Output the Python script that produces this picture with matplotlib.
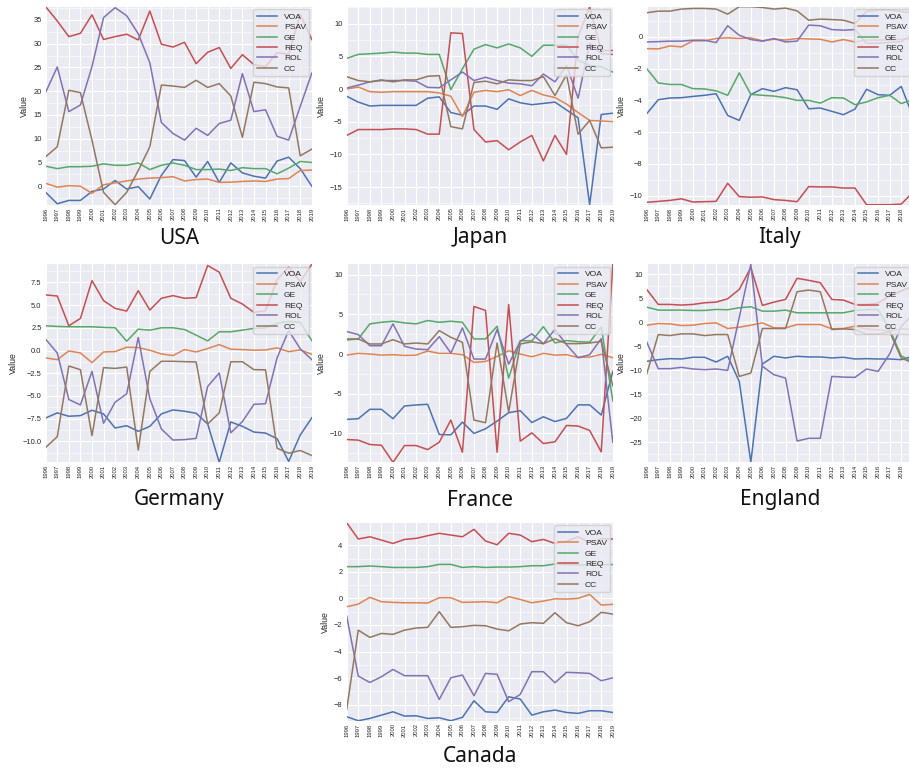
import matplotlib
matplotlib.use("Agg")
import matplotlib.pyplot as plt
from matplotlib.ticker import MultipleLocator

years = list(range(1996, 2020))
series_names = ["VOA", "PSAV", "GE", "REQ", "ROL", "CC"]
colors = ["#4C72B0", "#DD8452", "#55A868", "#C44E52", "#8172B3", "#937860"]

usa = {
    "VOA": [-1.3, -3.7, -3.0, -3.0, -1.1, -0.6, 1.2, -0.6, -0.1, -2.7, 2.3, 5.6, 5.4, 1.9, 5.2, 0.8, 4.9, 2.8, 2.1, 1.7, 5.3, 6.1, 3.7, 0.0],
    "PSAV": [0.6, -0.2, 0.1, 0.0, -1.5, 0.3, 0.7, 1.1, 1.5, 1.7, 1.8, 2.0, 1.1, 1.4, 1.5, 0.8, 0.85, 1.0, 1.1, 1.0, 1.5, 1.6, 3.3, 3.4],
    "GE": [4.2, 3.7, 4.1, 4.1, 4.2, 4.7, 4.4, 4.4, 4.9, 3.5, 4.4, 4.9, 4.4, 3.5, 3.5, 3.6, 3.3, 3.9, 3.7, 3.7, 2.6, 3.8, 5.2, 5.0],
    "REQ": [37.8, 34.8, 31.5, 32.2, 36.1, 30.9, 31.5, 32.0, 30.8, 36.9, 29.9, 29.3, 30.3, 25.8, 28.2, 29.2, 24.8, 27.7, 25.6, 25.2, 28.1, 27.8, 36.2, 30.9],
    "ROL": [19.8, 25.1, 15.7, 17.1, 25.2, 35.5, 37.6, 35.9, 32.1, 26.0, 13.4, 11.1, 9.7, 12.2, 10.7, 13.2, 13.9, 23.7, 15.7, 16.1, 10.5, 9.7, 16.8, 23.8],
    "CC": [6.2, 8.3, 20.2, 19.7, 9.7, -1.3, -3.9, -1.3, 3.3, 8.3, 21.3, 21.1, 20.8, 22.3, 20.8, 21.6, 19.0, 10.3, 21.9, 21.6, 20.9, 20.7, 6.4, 7.8],
}
japan = {
    "VOA": [-1.1, -2.0, -2.6, -2.5, -2.5, -2.5, -2.5, -1.4, -1.2, -3.6, -4.0, -2.6, -2.6, -3.1, -1.5, -2.1, -2.4, -2.2, -2.0, -3.2, -4.4, -17.7, -3.9, -3.7],
    "PSAV": [0.0, 0.3, -0.4, -0.5, -0.4, -0.4, -0.4, -0.4, -0.6, -1.1, -4.2, -0.5, -0.2, -0.4, -0.1, -1.0, -0.2, -0.9, -1.3, -2.3, -3.6, -4.8, -4.9, -5.0],
    "GE": [4.7, 5.3, 5.4, 5.5, 5.65, 5.5, 5.5, 5.3, 5.3, -0.1, 3.1, 6.1, 6.8, 6.3, 6.9, 6.3, 5.0, 6.7, 6.7, 6.7, 4.4, 3.6, 3.4, 2.6],
    "REQ": [-7.1, -6.2, -6.2, -6.2, -6.1, -6.1, -6.2, -6.9, -6.9, 8.6, 8.5, -6.2, -8.1, -7.9, -9.3, -8.1, -7.1, -11.0, -7.1, -10.0, 8.0, 12.6, 5.9, 5.9],
    "ROL": [0.15, 0.6, 1.1, 1.3, 1.3, 1.3, 1.2, 0.25, 0.2, 1.4, 2.6, 1.3, 1.8, 1.3, 0.9, 0.8, 0.5, 2.3, 1.1, 3.6, -1.4, 7.0, 5.4, 5.3],
    "CC": [1.9, 1.3, 1.1, 1.4, 1.1, 1.4, 1.4, 1.95, 2.05, -5.75, -6.1, 1.0, 1.2, 0.8, 1.4, 1.3, 1.3, 1.9, -1.0, 2.2, -6.9, -4.8, -9.0, -8.9],
}
italy = {
    "VOA": [-4.84, -3.96, -3.85, -3.83, -3.75, -3.68, -3.58, -4.95, -5.26, -3.64, -3.26, -3.43, -3.2, -3.33, -4.53, -4.48, -4.69, -4.9, -4.55, -3.3, -3.64, -3.68, -3.12, -5.0],
    "PSAV": [-0.74, -0.76, -0.57, -0.63, -0.25, -0.25, -0.1, -0.06, -0.1, -0.06, -0.25, -0.15, -0.2, -0.1, -0.13, -0.15, -0.32, -0.17, -0.32, -0.2, -0.2, -0.2, -0.15, -0.15],
    "GE": [-2.0, -2.9, -3.0, -3.0, -3.26, -3.28, -3.4, -3.68, -2.27, -3.62, -3.68, -3.73, -3.83, -4.0, -4.0, -4.17, -3.83, -3.85, -4.27, -4.1, -3.83, -3.68, -4.2, -3.95],
    "REQ": [-10.42, -10.36, -10.3, -10.2, -10.4, -10.38, -10.36, -9.22, -10.06, -10.1, -10.08, -10.25, -10.3, -10.38, -9.43, -9.45, -9.45, -9.52, -9.52, -10.57, -10.57, -10.57, -10.53, -9.8],
    "ROL": [-0.32, -0.3, -0.27, -0.27, -0.21, -0.21, -0.36, 0.7, 0.1, -0.17, -0.27, -0.1, -0.32, -0.27, 0.74, 0.7, 0.46, 0.42, 0.46, -0.4, -0.4, -0.35, -0.3, 0.2],
    "CC": [1.52, 1.62, 1.62, 1.75, 1.79, 1.79, 1.75, 1.43, 1.9, 1.9, 1.85, 1.75, 1.81, 1.64, 1.05, 1.12, 1.09, 1.05, 0.84, 1.6, 1.7, 1.7, 1.6, 1.5],
}
germany = {
    "VOA": [-7.42, -6.86, -7.23, -7.16, -6.57, -6.97, -8.52, -8.27, -8.89, -8.34, -6.97, -6.53, -6.68, -6.9, -8.08, -12.3, -7.86, -8.34, -8.97, -9.08, -9.7, -12.2, -9.3, -7.4],
    "PSAV": [-0.81, -1.0, -0.04, -0.26, -1.33, -0.15, -0.11, 0.37, 0.33, 0.04, -0.37, -0.55, 0.11, -0.15, 0.22, 0.66, 0.15, 0.11, 0.04, 0.07, 0.3, -0.12, 0.07, -0.4],
    "GE": [2.73, 2.66, 2.62, 2.62, 2.62, 2.55, 2.51, 1.03, 2.36, 2.25, 2.51, 2.51, 2.32, 1.7, 1.07, 2.07, 2.07, 2.25, 2.45, 2.5, 3.0, 3.2, 3.1, 1.1],
    "REQ": [6.13, 6.01, 2.73, 3.54, 7.71, 5.5, 4.65, 4.35, 6.6, 4.46, 5.76, 6.05, 5.76, 5.83, 9.37, 8.63, 5.76, 5.13, 4.2, 4.4, 7.8, 9.2, 7.6, 9.5],
    "ROL": [1.25, -0.26, -5.39, -5.98, -2.29, -8.0, -5.68, -4.76, 1.44, -5.31, -8.63, -9.85, -9.8, -9.67, -3.95, -2.47, -9.05, -7.82, -5.92, -5.85, -0.8, 2.2, 0.2, -1.0],
    "CC": [-10.66, -9.48, -1.7, -2.1, -9.37, -1.88, -1.96, -1.81, -10.96, -2.29, -1.18, -1.18, -1.22, -1.25, -8.08, -6.86, -1.23, -1.23, -2.1, -2.12, -10.75, -11.3, -11.0, -11.55],
}
france = {
    "VOA": [-8.23, -8.14, -6.96, -6.96, -8.14, -6.54, -6.41, -6.33, -10.13, -10.17, -8.57, -10.0, -9.41, -8.44, -7.38, -7.13, -8.62, -7.9, -8.5, -8.1, -6.4, -6.4, -7.68, -2.2],
    "PSAV": [-0.13, 0.08, 0.0, -0.13, -0.08, -0.17, -0.13, 0.38, 0.08, 0.08, -0.08, -1.05, -0.93, -0.3, 0.42, 0.0, -0.34, 0.08, -0.13, -0.08, -0.42, -0.38, -0.04, -0.46],
    "GE": [1.77, 1.9, 3.8, 4.0, 4.13, 3.92, 3.8, 4.22, 4.0, 4.13, 4.0, 1.9, 1.9, 3.5, -3.04, 1.69, 1.65, 3.45, 1.4, 1.7, 1.55, 1.5, 3.4, -5.9],
    "REQ": [-10.76, -10.84, -11.39, -11.48, -13.63, -11.52, -11.52, -12.03, -11.1, -8.31, -12.36, 5.99, 5.49, -12.36, 6.24, -10.97, -9.92, -11.27, -11.05, -8.99, -9.07, -9.62, -12.32, 11.3],
    "ROL": [2.83, 2.45, 1.05, 1.05, 3.8, 0.97, 0.63, 0.55, 2.19, 0.13, 3.29, -0.63, -0.63, 3.08, -1.27, 1.6, 2.55, 1.3, 3.1, 1.18, -0.46, -0.08, 1.94, -11.1],
    "CC": [1.9, 1.9, 1.27, 1.27, 1.81, 1.27, 1.39, 1.27, 2.95, 2.11, 1.48, -8.31, -8.65, 1.39, -7.3, 1.27, 1.54, 1.3, 1.92, 1.31, 1.31, 1.39, 1.6, -4.0],
}
england = {
    "VOA": [-8.16, -7.81, -7.6, -7.67, -7.32, -7.32, -8.3, -7.11, -12.34, -29.2, -8.72, -7.11, -7.46, -7.11, -7.25, -7.25, -7.46, -7.32, -7.67, -7.6, -7.67, -7.67, -7.81, -7.1],
    "PSAV": [-0.63, -0.28, -0.35, -0.7, -0.63, -0.28, -0.14, -1.32, -1.05, -0.63, -0.14, -1.19, -1.19, -0.49, -0.49, -0.49, -1.39, -1.32, -0.84, -1.4, -1.6, -1.8, -1.4, -1.5],
    "GE": [3.14, 2.51, 2.51, 2.51, 2.44, 2.44, 2.65, 2.58, 3.0, 3.21, 2.3, 2.3, 2.51, 1.95, 1.95, 1.95, 1.95, 1.95, 2.44, 2.6, 2.6, -1.5, -7.0, -8.3],
    "REQ": [6.83, 3.7, 3.7, 3.56, 3.7, 4.04, 4.18, 4.88, 6.83, 11.37, 3.49, 4.18, 4.74, 9.14, 8.72, 8.23, 4.74, 4.6, 3.7, 3.7, 4.0, 5.5, 6.5, 7.5],
    "ROL": [-4.11, -9.69, -9.69, -9.41, -9.76, -9.9, -9.76, -10.04, 1.0, 12.06, -9.2, -10.95, -11.65, -24.76, -24.2, -24.2, -11.3, -11.44, -11.5, -9.76, -10.25, -6.62, -0.84, 1.6],
    "CC": [-10.8, -2.58, -2.79, -2.44, -2.44, -2.79, -2.58, -2.58, -11.3, -10.6, -1.32, -1.32, -1.32, 6.35, 6.69, 6.35, -1.53, -1.39, -1.53, -2.5, -2.5, -2.0, -7.46, -8.5],
}
canada = {
    "VOA": [-8.91, -9.21, -9.04, -8.79, -8.54, -8.86, -8.84, -9.04, -8.99, -9.21, -8.96, -7.71, -8.54, -8.59, -7.41, -7.58, -8.79, -8.54, -8.41, -8.59, -8.66, -8.46, -8.46, -8.59],
    "PSAV": [-0.63, -0.43, 0.08, -0.25, -0.3, -0.33, -0.33, -0.35, 0.05, 0.05, -0.3, -0.28, -0.25, -0.33, 0.13, -0.08, -0.33, -0.2, -0.03, -0.05, 0.0, 0.3, -0.5, -0.45],
    "GE": [2.39, 2.39, 2.44, 2.39, 2.33, 2.33, 2.33, 2.39, 2.56, 2.56, 2.33, 2.39, 2.33, 2.36, 2.36, 2.39, 2.46, 2.46, 2.59, 2.55, 2.52, 2.5, 2.55, 2.55],
    "REQ": [5.7, 4.47, 4.64, 4.39, 4.14, 4.44, 4.52, 4.72, 4.9, 4.77, 4.64, 5.2, 4.32, 4.04, 4.9, 4.77, 4.27, 4.44, 4.14, 4.3, 4.64, 4.2, 4.5, 4.47],
    "ROL": [-1.33, -5.85, -6.33, -5.9, -5.35, -5.82, -5.82, -5.82, -7.61, -5.98, -5.77, -7.33, -5.65, -5.72, -7.78, -7.23, -5.52, -5.52, -6.35, -5.57, -5.6, -5.65, -6.2, -5.98],
    "CC": [-8.36, -2.39, -2.94, -2.64, -2.71, -2.39, -2.23, -2.18, -1.0, -2.18, -2.13, -2.03, -2.06, -2.31, -2.44, -1.93, -1.83, -1.88, -1.08, -1.83, -2.06, -1.76, -1.05, -1.18],
}

# (name, data, column, row, y tick step)
panels = [
    ("USA", usa, 0, 0, 5),
    ("Japan", japan, 1, 0, 5),
    ("Italy", italy, 2, 0, 2),
    ("Germany", germany, 0, 1, 2.5),
    ("France", france, 1, 1, 5),
    ("England", england, 2, 1, 5),
    ("Canada", canada, 1, 2, 2),
]

plt.rcParams["font.family"] = ["Liberation Sans", "DejaVu Sans"]

W, H = 909, 768
fig = plt.figure(figsize=(W / 100, H / 100), dpi=100)

col_left = [45.7, 346.7, 646.7]
row_top = [6.7, 264.3, 522.7]
ax_w, ax_h = 266.1, 198
title_y = [238, 500, 756]

for name, data, c, r, step in panels:
    ax = fig.add_axes([col_left[c] / W, (H - row_top[r] - ax_h) / H, ax_w / W, ax_h / H])
    ax.set_facecolor("#EAEAF2")
    for s in ax.spines.values():
        s.set_visible(False)
    ax.set_axisbelow(True)
    for key, col in zip(series_names, colors):
        ax.plot(years, data[key], color=col, linewidth=1.1, label=key)
    ax.margins(x=0, y=0)
    ax.set_xticks(years)
    labels = [str(y) for y in years]
    if c == 2:
        # the right column runs past the picture edge, its last label is not shown
        labels[-1] = ""
    ax.set_xticklabels(labels, rotation=90, fontsize=4.2, color=".15")
    ax.yaxis.set_major_locator(MultipleLocator(step))
    ax.yaxis.set_minor_locator(MultipleLocator(step / 2))
    ax.grid(True, which="major", color="white", linewidth=0.8)
    ax.grid(True, which="minor", axis="y", color="white", linewidth=0.4)
    ax.tick_params(axis="both", which="both", length=0, colors=".15")
    ax.tick_params(axis="y", labelsize=5.4, pad=3)
    ax.tick_params(axis="x", pad=2)
    ax.set_ylabel("Value", fontsize=6.3, color=".15", labelpad=3)
    leg = ax.legend(loc="upper right", fontsize=6.1, frameon=True, facecolor="#EAEAF2",
                    edgecolor="0.8", framealpha=0.8, borderaxespad=0.3,
                    labelspacing=0.3, handlelength=2.4)
    for t in leg.get_texts():
        t.set_color(".15")
    fig.text((col_left[c] + ax_w / 2) / W, 1 - title_y[r] / H, name, ha="center", va="center",
             fontsize=15, family=["Noto Sans", "DejaVu Sans"], color="#111111")

fig.savefig("out.png", dpi=100, facecolor="white")
